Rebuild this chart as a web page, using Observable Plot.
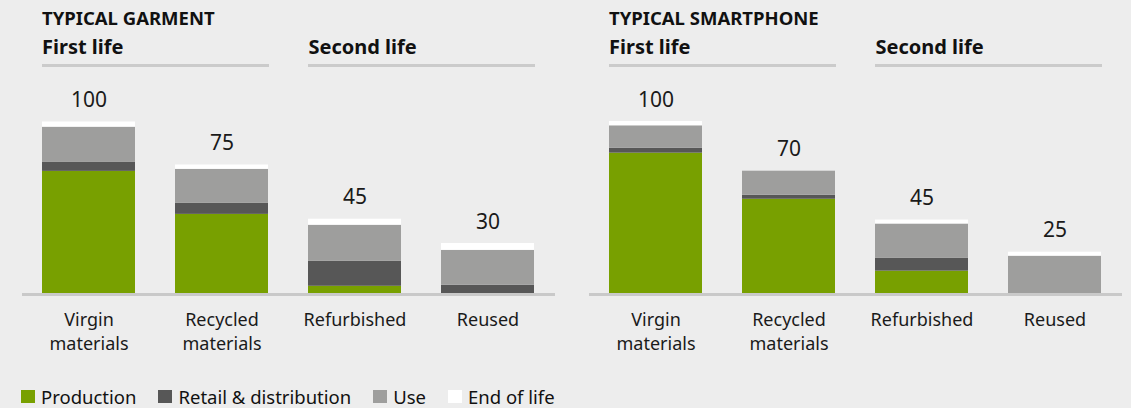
<!DOCTYPE html>
<html><head><meta charset="utf-8">
<script src="https://cdn.jsdelivr.net/npm/d3@7"></script>
<script src="https://cdn.jsdelivr.net/npm/@observablehq/plot@0.6"></script>
<style>
html,body{margin:0;padding:0;background:#ededed;}
#root{position:relative;width:1131px;height:408px;background:#ededed;font-family:"Noto Sans",sans-serif;color:#111;overflow:hidden;}
.panel{position:absolute;top:0;height:408px;}
.panel svg{position:absolute;left:0;top:0;}
.title{position:absolute;top:9px;font-weight:700;font-size:18.5px;line-height:18px;white-space:nowrap;color:#111;}
.head{position:absolute;top:37px;font-weight:700;font-size:20px;line-height:20px;white-space:nowrap;color:#111;}
.uline{position:absolute;top:64px;height:3px;background:#cbcbcb;}
.legend{position:absolute;left:21px;top:386px;display:flex;align-items:center;font-size:18.5px;line-height:21px;color:#111;}
.legend .item{display:flex;align-items:center;margin-right:22px;}
.legend .sw{width:14px;height:13px;margin-right:6px;}
</style>
</head><body>
<div id="root"></div>
<script>
const categories = ["Virgin materials", "Recycled materials", "Refurbished", "Reused"];
const stages = ["Production", "Retail & distribution", "Use", "End of life"];
const stageColors = ["#78a000", "#575757", "#9e9e9d", "#ffffff"];

const garmentProduction = [71, 46, 4.2, 0];
const garmentRetail = [5.2, 6.4, 14.5, 4.8];
const garmentUse = [20.5, 19.8, 21, 20.3];
const garmentEnd = [3, 2.5, 3.5, 4];
const garmentTotals = [100, 75, 45, 30];

const phoneProduction = [81.6, 54.8, 13, 0];
const phoneRetail = [2.9, 2.3, 7.6, 0];
const phoneUse = [13, 14, 19.8, 21.7];
const phoneEnd = [2.5, 0, 2.3, 2.3];
const phoneTotals = [100, 70, 45, 25];

const panelTitles = ["TYPICAL GARMENT", "TYPICAL SMARTPHONE"];
const lifeHeads = ["First life", "Second life"];

const root = document.getElementById("root");

function makePanel(left, width, ml, mr, title, series, totals) {
  const rows = [];
  categories.forEach((c, i) => {
    series.forEach((arr, j) => rows.push({category: c, stage: stages[j], value: arr[i]}));
  });
  const sums = categories.map((c, i) => ({
    category: c,
    total: d3.sum(series, arr => arr[i]),
    label: String(totals[i])
  }));
  const height = 360, marginTop = 121, marginBottom = 67;
  const plot = Plot.plot({
    width, height, marginLeft: ml, marginRight: mr, marginTop, marginBottom,
    style: {background: "transparent", fontFamily: "Noto Sans", overflow: "visible"},
    x: {domain: categories, paddingInner: 0.3, paddingOuter: 0.15, axis: null},
    y: {domain: [0, 100], axis: null},
    color: {domain: stages, range: stageColors},
    marks: [
      Plot.ruleY([0], {stroke: "#c9c9c9", strokeWidth: 3, dy: 1}),
      Plot.barY(rows, {x: "category", y: "value", fill: "stage", order: stages}),
      Plot.text(sums, {x: "category", y: "total", text: "label", dy: -21.5, fontSize: 21, fill: "#1a1a1a"}),
      Plot.text(categories, {x: d => d, text: d => d.replace(" ", "\n"), frameAnchor: "bottom",
        lineAnchor: "top", dy: 15, fontSize: 18, lineHeight: 1.333, fill: "#1a1a1a"})
    ]
  });
  const div = document.createElement("div");
  div.className = "panel";
  div.style.left = left + "px";
  div.style.width = width + "px";
  div.appendChild(plot);
  // positions of headings derived from the same band layout
  const bx = d3.scaleBand().domain(categories).range([ml, width - mr]).paddingInner(0.3).paddingOuter(0.15);
  const t = document.createElement("div");
  t.className = "title";
  t.textContent = title;
  t.style.left = bx(categories[0]) + "px";
  div.appendChild(t);
  [[0, 1], [2, 3]].forEach((pair, k) => {
    const x0 = bx(categories[pair[0]]);
    const x1 = bx(categories[pair[1]]) + bx.bandwidth();
    const h = document.createElement("div");
    h.className = "head";
    h.textContent = lifeHeads[k];
    h.style.left = x0 + "px";
    div.appendChild(h);
    const u = document.createElement("div");
    u.className = "uline";
    u.style.left = x0 + "px";
    u.style.width = (x1 - x0) + "px";
    div.appendChild(u);
  });
  root.appendChild(div);
}

makePanel(0, 566, 22, 11, panelTitles[0],
  [garmentProduction, garmentRetail, garmentUse, garmentEnd], garmentTotals);
makePanel(566, 565, 23, 9, panelTitles[1],
  [phoneProduction, phoneRetail, phoneUse, phoneEnd], phoneTotals);

const legend = document.createElement("div");
legend.className = "legend";
stages.forEach((s, i) => {
  const it = document.createElement("div");
  it.className = "item";
  const sw = document.createElement("span");
  sw.className = "sw";
  sw.style.background = stageColors[i];
  const tx = document.createElement("span");
  tx.textContent = s;
  it.appendChild(sw); it.appendChild(tx);
  legend.appendChild(it);
});
root.appendChild(legend);
</script>
</body></html>
